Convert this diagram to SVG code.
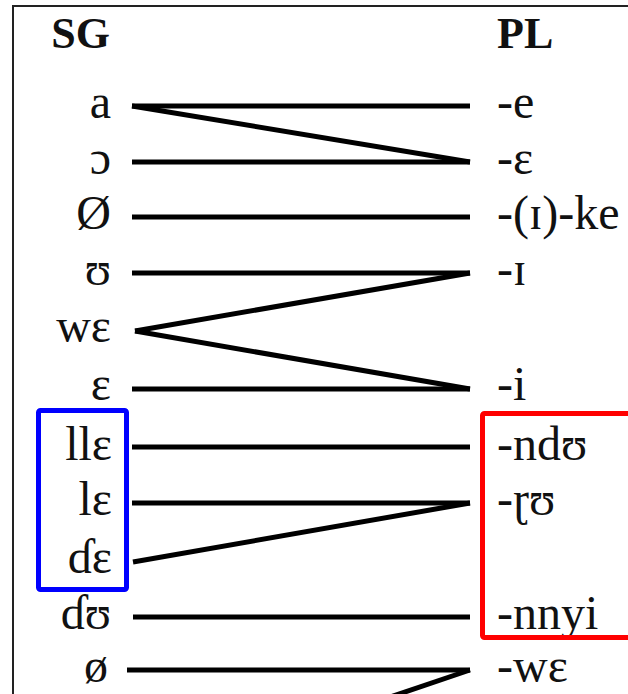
<svg xmlns="http://www.w3.org/2000/svg" width="628" height="694" viewBox="0 0 628 694">
<style>
.t{font-family:"Liberation Serif","DejaVu Serif",serif;font-size:48px;fill:#111}
.l{text-anchor:end}
.h{font-weight:bold;font-size:44px}
.c line{stroke:#000;stroke-width:5;stroke-linecap:butt}
</style>
<rect width="628" height="694" fill="#fff"/>
<g id="frame" fill="none" stroke="#222" stroke-width="2">
<polyline points="13,694 13,6 628,6"/>
</g>
<g id="headers">
<text class="t h l" x="110" y="48">SG</text>
<text class="t h" x="497" y="48">PL</text>
</g>
<g id="sg">
<text class="t l" x="111" y="118">a</text>
<text class="t l" x="111" y="174">ɔ</text>
<text class="t l" x="111" y="229">Ø</text>
<text class="t l" x="111" y="285">ʊ</text>
<text class="t l" x="111" y="342">wɛ</text>
<text class="t l" x="111" y="400">ɛ</text>
<text class="t l" x="112" y="460">llɛ</text>
<text class="t l" x="112" y="515">lɛ</text>
<text class="t l" x="112" y="573">ɗɛ</text>
<text class="t l" x="111" y="629">ɗʊ</text>
<text class="t l" x="108" y="682">ø</text>
</g>
<g id="pl">
<text class="t" x="497" y="118">-e</text>
<text class="t" x="497" y="174">-ɛ</text>
<text class="t" x="497" y="229">-(ɪ)-ke</text>
<text class="t" x="497" y="285">-ɪ</text>
<text class="t" x="497" y="400">-i</text>
<text class="t" x="497" y="460">-ndʊ</text>
<text class="t" x="497" y="515">-ɽʊ</text>
<text class="t" x="497" y="629">-nnyi</text>
<text class="t" x="497" y="682">-wɛ</text>
</g>
<g id="connectors" class="c">
<line x1="132" y1="106" x2="470" y2="106"/>
<line x1="132" y1="106" x2="470" y2="162"/>
<line x1="132" y1="162" x2="470" y2="162"/>
<line x1="132" y1="217" x2="470" y2="217"/>
<line x1="132" y1="273" x2="470" y2="273"/>
<line x1="470" y1="273" x2="135" y2="331"/>
<line x1="135" y1="331" x2="470" y2="389"/>
<line x1="132" y1="389" x2="470" y2="389"/>
<line x1="132" y1="447" x2="470" y2="447"/>
<line x1="132" y1="503" x2="470" y2="503"/>
<line x1="470" y1="503" x2="133" y2="562"/>
<line x1="133" y1="617" x2="470" y2="617"/>
<line x1="127" y1="670" x2="470" y2="670"/>
<line x1="470" y1="670" x2="133" y2="784"/>
</g>
<g id="groups" fill="none" stroke-width="5">
<rect id="sg-box" x="38.5" y="410.5" width="88" height="179" rx="2" stroke="#0000ff"/>
<rect id="pl-box" x="482.5" y="413.5" width="200" height="224" rx="2" stroke="#ff0000"/>
</g>
</svg>
